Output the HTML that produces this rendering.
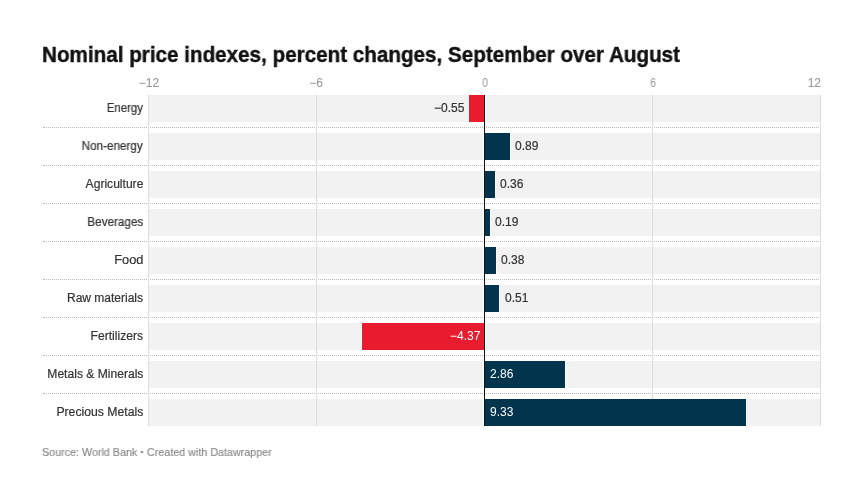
<!DOCTYPE html>
<html><head><meta charset="utf-8">
<style>
html,body{margin:0;padding:0;background:#fff;width:864px;height:501px;overflow:hidden;position:relative;font-family:"Liberation Sans",sans-serif;}
.a{position:absolute;}
.t{position:absolute;white-space:nowrap;will-change:transform;}
#title{left:42.3px;top:42px;font-size:22px;font-weight:700;color:#111;-webkit-text-stroke:0.4px #111;transform:scaleX(0.938);transform-origin:0 0;}
.tick{top:76px;font-size:12px;color:#999;-webkit-text-stroke:0.1px #999;}
.grid{position:absolute;top:95px;height:331px;width:1px;background:#ddd;}
.bg{position:absolute;left:148px;width:672px;height:27px;background:#f2f2f2;}
.dot{position:absolute;left:43px;width:776px;height:1px;background:linear-gradient(#bbb,#bbb) 0 0/1px 1px no-repeat,linear-gradient(to right,#bbb 0,#bbb 1px,transparent 1px,transparent 2px) 1px 0/2px 1px repeat-x;}
.lab{font-size:12px;color:#333;-webkit-text-stroke:0.2px #333;right:721px;text-align:right;transform-origin:100% 0;}
.bar{position:absolute;height:27px;}
.neg{background:#e81c2e;box-shadow:-1px 0 0 #fff;}
.pos{background:#03344d;box-shadow:1px 0 0 #fff;}
.val{font-size:12px;color:#333;-webkit-text-stroke:0.2px #333;}
.wv{color:#fff;-webkit-text-stroke:0;}
#src{left:42px;top:446px;font-size:11px;color:#888;-webkit-text-stroke:0.15px #888;transform:scaleX(0.976);transform-origin:0 0;}
</style></head><body>
<div id="title" class="t">Nominal price indexes, percent changes, September over August</div>

<div class="t tick" style="left:98.5px;width:100px;text-align:center">−12</div>
<div class="t tick" style="left:266px;width:100px;text-align:center">−6</div>
<div class="t tick" style="left:434.5px;width:100px;text-align:center;transform:scaleX(0.85)">0</div>
<div class="t tick" style="left:602.5px;width:100px;text-align:center;transform:scaleX(0.85)">6</div>
<div class="t tick" style="left:720.5px;width:100px;text-align:right;transform-origin:100% 0">12</div>

<!-- row backgrounds -->
<div class="bg" style="top:95px"></div>
<div class="bg" style="top:133px"></div>
<div class="bg" style="top:171px"></div>
<div class="bg" style="top:209px"></div>
<div class="bg" style="top:247px"></div>
<div class="bg" style="top:285px"></div>
<div class="bg" style="top:323px"></div>
<div class="bg" style="top:361px"></div>
<div class="bg" style="top:399px"></div>

<!-- dotted separators -->
<div class="dot" style="top:127px"></div>
<div class="dot" style="top:165px"></div>
<div class="dot" style="top:203px"></div>
<div class="dot" style="top:241px"></div>
<div class="dot" style="top:279px"></div>
<div class="dot" style="top:317px"></div>
<div class="dot" style="top:355px"></div>
<div class="dot" style="top:393px"></div>

<!-- gridlines -->
<div class="grid" style="left:148px"></div>
<div class="grid" style="left:316px"></div>
<div class="grid" style="left:652px"></div>
<div class="grid" style="left:820px"></div>
<div class="a" style="left:483px;top:95px;width:3px;height:331px;background:#fff"></div>

<!-- labels -->
<div class="t lab" style="top:101px;transform:scaleX(0.954)">Energy</div>
<div class="t lab" style="top:139px;transform:scaleX(0.974)">Non-energy</div>
<div class="t lab" style="top:177px;transform:scaleX(1.007)">Agriculture</div>
<div class="t lab" style="top:215px;transform:scaleX(0.977)">Beverages</div>
<div class="t lab" style="top:253px;transform:scaleX(1.064)">Food</div>
<div class="t lab" style="top:291px;transform:scaleX(1.0)">Raw materials</div>
<div class="t lab" style="top:329px;transform:scaleX(1.008)">Fertilizers</div>
<div class="t lab" style="top:367px;transform:scaleX(1.007)">Metals &amp; Minerals</div>
<div class="t lab" style="top:405px;transform:scaleX(1.019)">Precious Metals</div>

<!-- bars -->
<div class="bar neg" style="top:95px;left:469px;width:16px"></div>
<div class="bar pos" style="top:133px;left:485px;width:25px"></div>
<div class="bar pos" style="top:171px;left:485px;width:10px"></div>
<div class="bar pos" style="top:209px;left:485px;width:5px"></div>
<div class="bar pos" style="top:247px;left:485px;width:11px"></div>
<div class="bar pos" style="top:285px;left:485px;width:14px"></div>
<div class="bar neg" style="top:323px;left:362px;width:123px"></div>
<div class="bar pos" style="top:361px;left:485px;width:80px"></div>
<div class="bar pos" style="top:399px;left:485px;width:261px"></div>
<div class="a" style="left:484px;top:95px;width:1px;height:331px;background:#111"></div>

<!-- values -->
<div class="t val" style="top:101px;right:400px">−0.55</div>
<div class="t val" style="top:139px;left:515px">0.89</div>
<div class="t val" style="top:177px;left:500px">0.36</div>
<div class="t val" style="top:215px;left:495px">0.19</div>
<div class="t val" style="top:253px;left:500.5px">0.38</div>
<div class="t val" style="top:291px;left:504.5px">0.51</div>
<div class="t val wv" style="top:329px;right:384px">−4.37</div>
<div class="t val wv" style="top:367px;left:490px">2.86</div>
<div class="t val wv" style="top:405px;left:490px">9.33</div>

<div id="src" class="t">Source: World Bank <span style="display:inline-block;transform:scale(0.7) translate(-1px,-1px);color:#666">•</span> Created with Datawrapper</div>
</body></html>
